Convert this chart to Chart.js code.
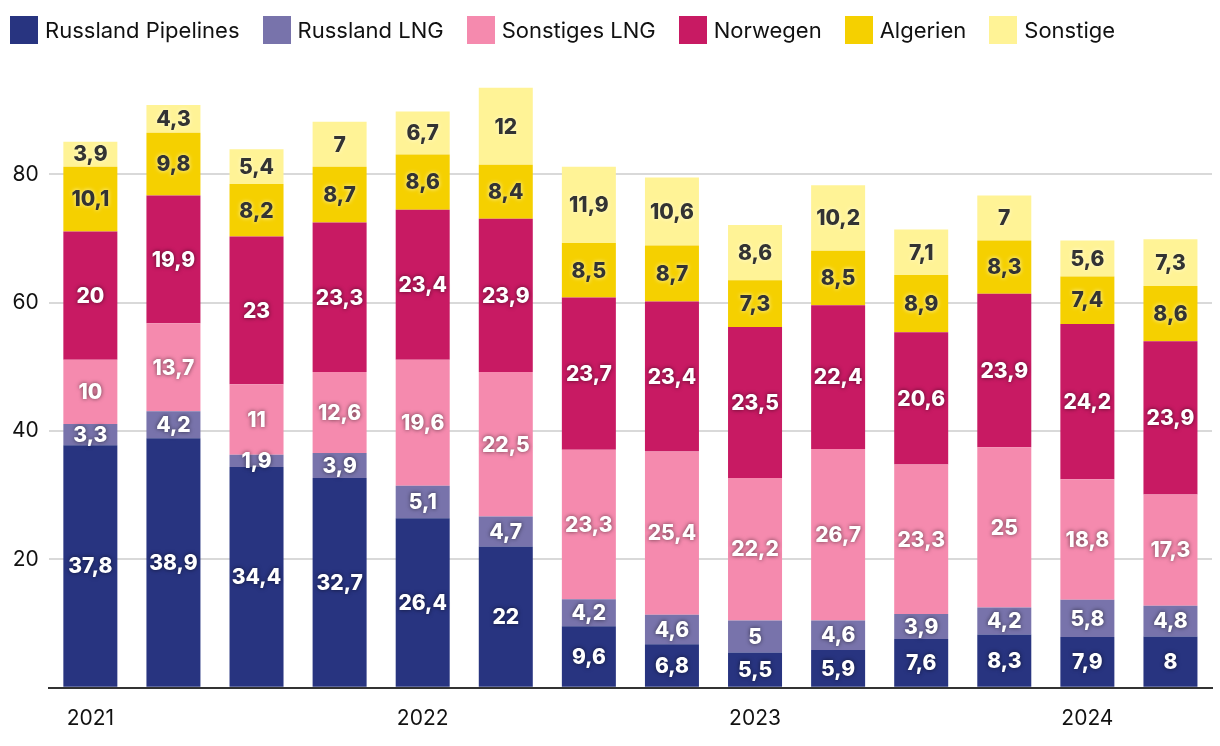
<!DOCTYPE html>
<html lang="de">
<head>
  <meta charset="UTF-8">
  <title>Gasimporte nach Herkunft</title>
  <script src="https://cdn.jsdelivr.net/npm/chart.js"></script>
  <style>
    html, body { margin: 0; padding: 0; background: #fff; }
    #wrap { width: 1220px; height: 746px; position: relative; }
    #legend {
      position: absolute; left: 10px; top: 16px;
      display: flex; gap: 23px;
      font-family: Inter, "Liberation Sans", sans-serif; font-size: 22px; color: #111;
    }
    #legend .item { display: flex; align-items: center; gap: 7px; height: 28px; }
    #legend .box { width: 28px; height: 28px; display: inline-block; }
  </style>
</head>
<body>
  <div id="wrap">
    <div id="legend"></div>
    <canvas id="gasChart"></canvas>
  </div>

  <script>
    // Quartale 2021 Q1 bis 2024 Q2, nur das erste Quartal bekommt eine Jahreszahl
    const quarters = ["2021", "", "", "", "2022", "", "", "", "2023", "", "", "", "2024", ""];

    const russlandPipelines = [37.8, 38.9, 34.4, 32.7, 26.4, 22, 9.6, 6.8, 5.5, 5.9, 7.6, 8.3, 7.9, 8];
    const russlandLNG       = [3.3, 4.2, 1.9, 3.9, 5.1, 4.7, 4.2, 4.6, 5, 4.6, 3.9, 4.2, 5.8, 4.8];
    const sonstigesLNG      = [10, 13.7, 11, 12.6, 19.6, 22.5, 23.3, 25.4, 22.2, 26.7, 23.3, 25, 18.8, 17.3];
    const norwegen          = [20, 19.9, 23, 23.3, 23.4, 23.9, 23.7, 23.4, 23.5, 22.4, 20.6, 23.9, 24.2, 23.9];
    const algerien          = [10.1, 9.8, 8.2, 8.7, 8.6, 8.4, 8.5, 8.7, 7.3, 8.5, 8.9, 8.3, 7.4, 8.6];
    const sonstige          = [3.9, 4.3, 5.4, 7, 6.7, 12, 11.9, 10.6, 8.6, 10.2, 7.1, 7, 5.6, 7.3];

    const yTicks = [0, 20, 40, 60, 80];

    const series = [
      { label: "Russland Pipelines", data: russlandPipelines, color: "#283480", text: "#fff" },
      { label: "Russland LNG",       data: russlandLNG,       color: "#7873ab", text: "#fff" },
      { label: "Sonstiges LNG",      data: sonstigesLNG,      color: "#f58aae", text: "#fff" },
      { label: "Norwegen",           data: norwegen,          color: "#c81a63", text: "#fff" },
      { label: "Algerien",           data: algerien,          color: "#f5d000", text: "#333" },
      { label: "Sonstige",           data: sonstige,          color: "#fff396", text: "#333" },
    ];

    // Legende als HTML, damit Abstände wie im Original sitzen
    const legend = document.getElementById("legend");
    series.forEach(s => {
      const item = document.createElement("div");
      item.className = "item";
      item.innerHTML = `<span class="box" style="background:${s.color}"></span><span>${s.label}</span>`;
      legend.appendChild(item);
    });

    // Werte in die Balkensegmente schreiben (kein datalabels-Plugin verfügbar)
    const segmentLabels = {
      id: "segmentLabels",
      afterDatasetsDraw(chart) {
        const ctx = chart.ctx;
        ctx.save();
        ctx.font = "800 21px Inter, 'Liberation Sans', sans-serif";
        ctx.textAlign = "center";
        ctx.textBaseline = "middle";
        chart.data.datasets.forEach((ds, i) => {
          const meta = chart.getDatasetMeta(i);
          meta.data.forEach((bar, j) => {
            const value = ds.data[j];
            const y = (bar.y + bar.base) / 2;
            const dark = ds.textColor === "#333";
            ctx.shadowColor = dark ? "rgba(255,255,220,0.9)" : "rgba(0,0,0,0.6)";
            ctx.shadowBlur = 4;
            ctx.fillStyle = ds.textColor;
            ctx.fillText(String(value).replace(".", ","), bar.x, y + 1);
          });
        });
        ctx.restore();
      }
    };

    new Chart(document.getElementById("gasChart"), {
      type: "bar",
      data: {
        labels: quarters,
        datasets: series.map(s => ({
          label: s.label,
          data: s.data,
          backgroundColor: s.color,
          textColor: s.text,
          borderWidth: 0,
          categoryPercentage: 1,
          barPercentage: 0.65,
        })),
      },
      options: {
        responsive: true,
        maintainAspectRatio: false,
        animation: false,
        layout: { padding: { left: 2, right: 8, top: 46, bottom: 5 } },
        plugins: {
          legend: { display: false },
          tooltip: { enabled: false },
        },
        scales: {
          x: {
            stacked: true,
            grid: { display: false },
            border: { display: true, color: "#333", width: 2 },
            ticks: {
              color: "#111",
              autoSkip: false,
              maxRotation: 0,
              padding: 10,
              font: { family: "Inter, 'Liberation Sans', sans-serif", size: 21 },
            },
          },
          y: {
            stacked: true,
            min: 0,
            max: 100,
            afterBuildTicks(axis) {
              axis.ticks = yTicks.map(v => ({ value: v }));
            },
            grid: {
              color: ctx => (ctx.tick && ctx.tick.value === 0 ? "rgba(0,0,0,0)" : "#d9d9d9"),
              lineWidth: 2,
              drawTicks: false,
            },
            border: { display: false },
            ticks: {
              color: "#111",
              padding: 10,
              callback: v => (v === 0 ? "" : v),
              font: { family: "Inter, 'Liberation Sans', sans-serif", size: 21 },
            },
          },
        },
      },
      plugins: [segmentLabels],
    });
  </script>
</body>
</html>
